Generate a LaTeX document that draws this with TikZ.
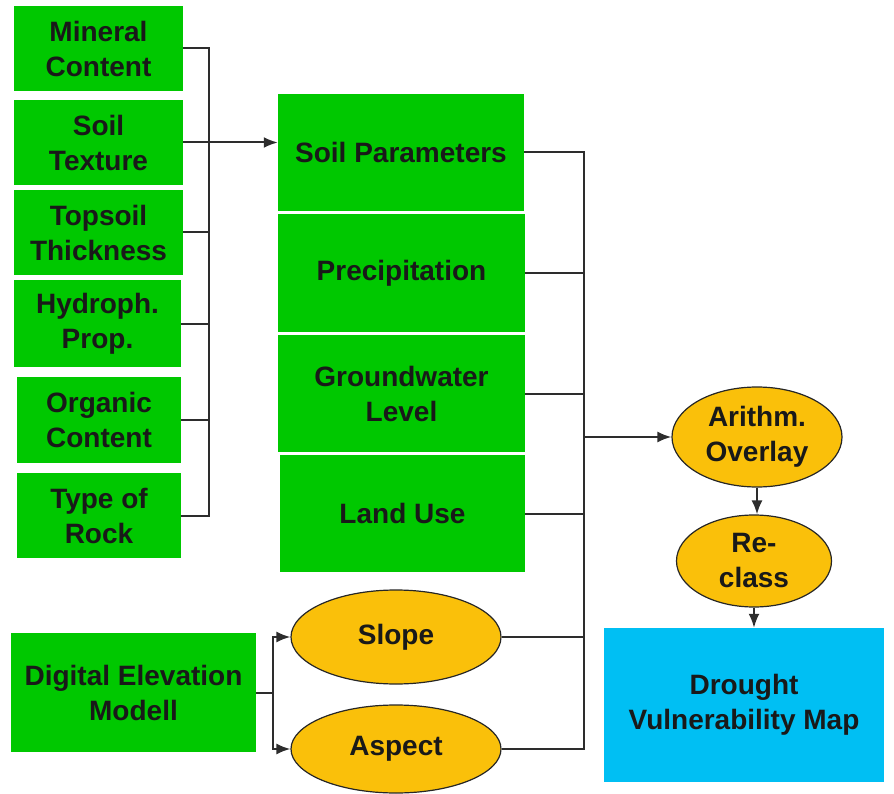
\documentclass[tikz,border=0pt]{standalone}
\usepackage{fontspec}
\setmainfont{Liberation Sans}
\usepackage{tikz}
\usetikzlibrary{arrows.meta,shapes.geometric}
\definecolor{layergreen}{RGB}{0,200,0}
\definecolor{opyellow}{RGB}{250,192,10}
\definecolor{mapblue}{RGB}{0,191,243}
\definecolor{wire}{RGB}{45,45,45}

\begin{document}
\begin{tikzpicture}[x=1pt,y=-1pt,
    greenbox/.style={fill=layergreen,inner sep=0pt,align=center,
      font=\fontsize{28}{35}\selectfont\bfseries,text=black!90},
    opnode/.style={ellipse,draw=black!85,line width=1.2pt,fill=opyellow,inner sep=0pt,
      align=center,font=\fontsize{28}{35}\selectfont\bfseries,text=black!90},
    conn/.style={draw=wire,line width=2pt},
    arr/.style={conn,-{Latex[length=14pt,width=11pt]}}]
  \useasboundingbox (0,0) rectangle (894,794);
  % soil factors
  \node[greenbox,minimum width=169pt,minimum height=85pt] (mineral) at (98.5,48.5) {Mineral\\Content};
  \node[greenbox,minimum width=169pt,minimum height=85pt] (texture) at (98.5,142.5) {Soil\\Texture};
  \node[greenbox,minimum width=169pt,minimum height=85pt] (topsoil) at (98.5,232.5) {Topsoil\\Thickness};
  \node[greenbox,minimum width=167pt,minimum height=87pt] (hydroph) at (97.5,323.5) {Hydroph.\\Prop.};
  \node[greenbox,minimum width=164pt,minimum height=86pt] (organic) at (99,420) {Organic\\Content};
  \node[greenbox,minimum width=164pt,minimum height=85pt] (rock) at (99,515.5) {Type of\\Rock};
  % layers
  \node[greenbox,minimum width=246pt,minimum height=117pt] (soilpar) at (401,152.5) {Soil Parameters};
  \node[greenbox,minimum width=247pt,minimum height=118pt] (precip) at (401.5,273) {Precipitation};
  \node[greenbox,minimum width=247pt,minimum height=117pt] (ground) at (401.5,393.5) {Groundwater\\Level};
  \node[greenbox,minimum width=245pt,minimum height=117pt] (landuse) at (402.5,513.5) {Land Use};
  % relief
  \node[greenbox,minimum width=245pt,minimum height=119pt] (dem) at (133.5,692.5) {Digital Elevation\\Modell};
  \node[opnode,minimum width=210pt,minimum height=94pt] (slope) at (396,637) {Slope};
  \node[opnode,minimum width=210pt,minimum height=88pt] (aspect) at (396,749) {Aspect};
  % operations
  \node[opnode,minimum width=170pt,minimum height=100pt] (overlay) at (757,437) {Arithm.\\Overlay};
  \node[opnode,minimum width=155pt,minimum height=92pt] (reclass) at (754,561) {Re-\\class};
  \node[greenbox,fill=mapblue,minimum width=280pt,minimum height=154pt] (drought) at (744,705) {Drought\\Vulnerability Map};

  \coordinate (lbus) at (209,0);
  \coordinate (rbus) at (584,0);
  % soil factors to soil parameters
  \draw[conn] (mineral.east) -| (lbus |- rock.east) -- (rock.east);
  \foreach \n in {topsoil,hydroph,organic}
    \draw[conn] (\n.east) -- (\n.east -| lbus);
  \draw[arr] (texture.east) -- (texture.east -| soilpar.west);
  % layers to overlay
  \draw[conn] (aspect.east) -| (rbus |- soilpar.east) -- (soilpar.east);
  \foreach \n in {precip,ground,landuse,slope}
    \draw[conn] (\n.east) -- (\n.east -| rbus);
  \draw[arr] (rbus |- overlay.west) -- (overlay.west);
  \draw[arr] (overlay.south) -- (overlay.south |- reclass.north);
  \draw[arr] (reclass.south) -- (reclass.south |- drought.north);
  % dem
  \draw[arr] (dem.east) -- ++(17,0) |- (slope.west);
  \draw[arr] (dem.east) -- ++(17,0) |- (aspect.west);
\end{tikzpicture}
\end{document}
